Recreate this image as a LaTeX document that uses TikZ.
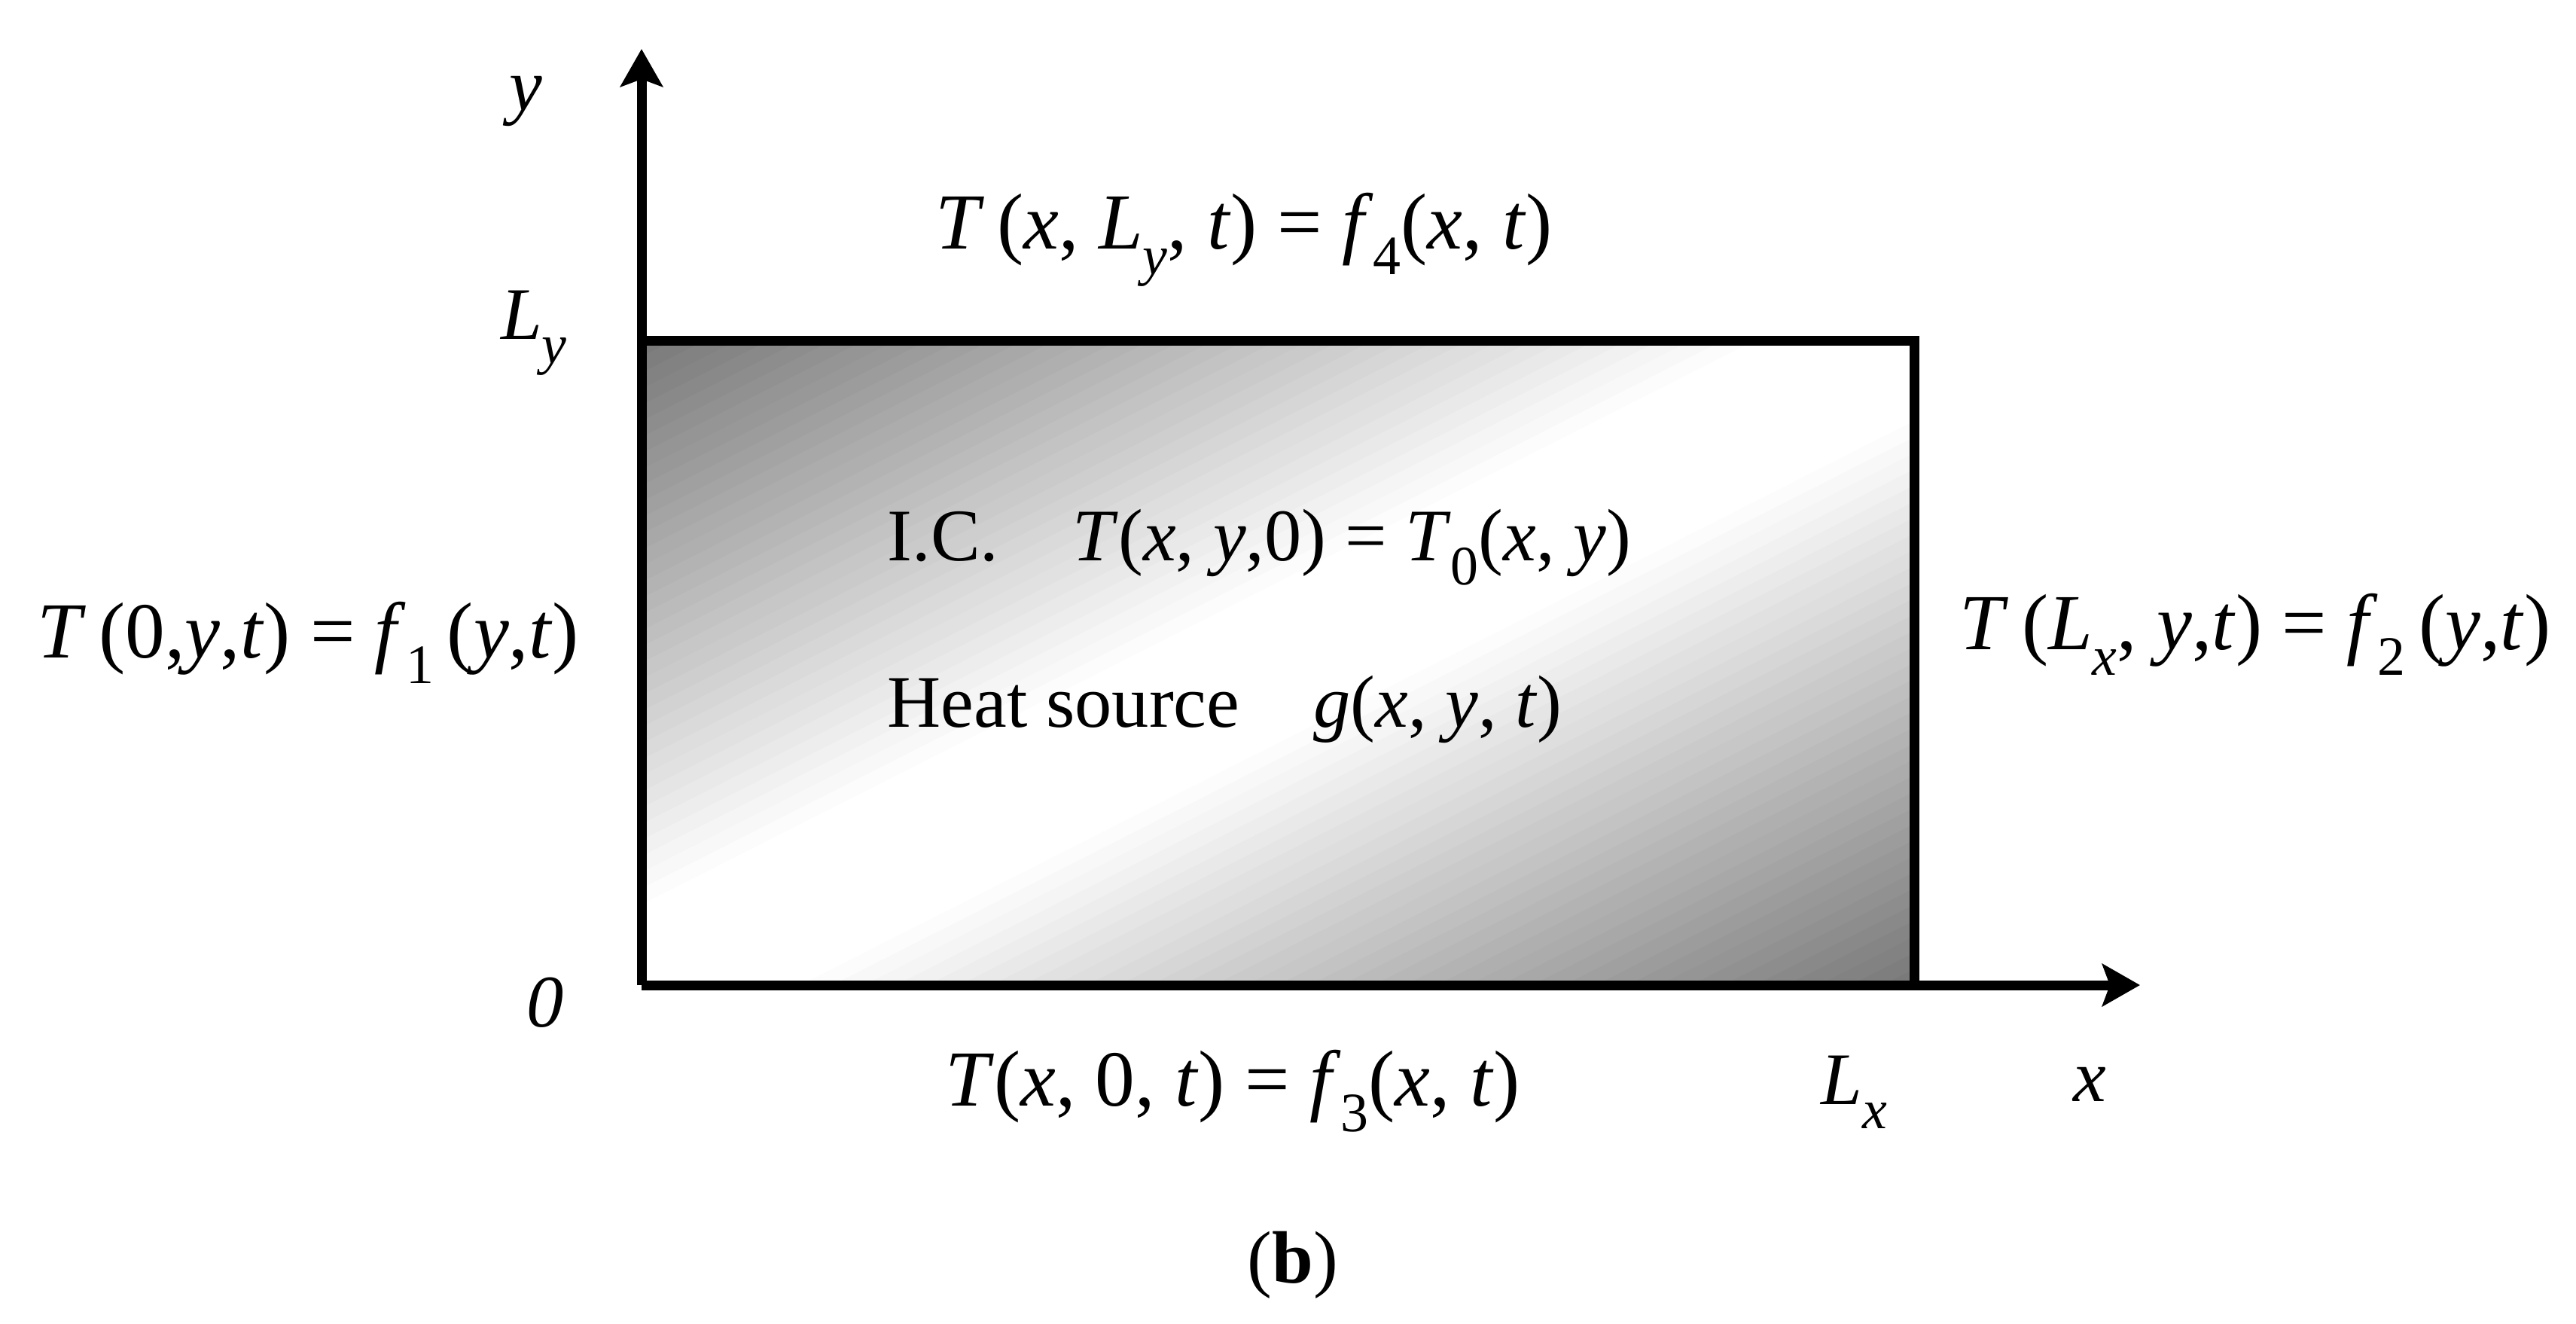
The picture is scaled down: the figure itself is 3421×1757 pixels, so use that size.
\documentclass[tikz,border=0pt]{standalone}
\usepackage{fontspec}
\setmainfont{Liberation Serif}
\usetikzlibrary{arrows.meta}
\newcommand{\iv}[1]{\textit{#1}}
\newcommand{\lsub}[1]{\raisebox{-0.7ex}{\fontsize{21}{21}\selectfont #1}}
\tikzset{
  lbl/.style={inner sep=0pt, font=\fontsize{28}{34}\selectfont},
  eqn/.style={inner sep=0pt, font=\fontsize{30}{36}\selectfont},
  axis/.style={line width=0.13cm, -{Stealth[length=0.5cm, width=0.56cm, inset=0.1cm]}},
}

\begin{document}
\begin{tikzpicture}[x=0.01cm, y=-0.01cm]
    \useasboundingbox (0,0) rectangle (3421,1757);
    % plate with heat source: diagonal grey-white-grey bands
    \begin{scope}
      \clip (852,452) rectangle (2542,1308);
      \foreach \i in {0,...,79} {
        \pgfmathsetmacro{\sa}{\i/40}
        \pgfmathsetmacro{\sb}{(\i+1.6)/40}
        \pgfmathsetmacro{\dd}{abs((\i+0.5)/40-1)}
        \pgfmathsetmacro{\tone}{53*max(0,(\dd-0.12)/0.88)}
        \fill[black!\tone] ({852+1690*(\sa+2)},{452-2*856}) -- ({852+1690*(\sa-2)},{452+2*856})
          -- ({852+1690*(\sb-2)},{452+2*856}) -- ({852+1690*(\sb+2)},{452-2*856}) -- cycle;
      }
    \end{scope}
    \draw[line width=0.13cm] (852,452) -- (2542,452) -- (2542,1308);
    % axes
    \coordinate (origin) at (852,1308);
    \coordinate (xend) at (2842,1308);
    \coordinate (yend) at (852,65);
    \draw[axis] (origin) -- (xend);
    \draw[axis] (origin) -- (yend);
    % axis labels
    \node[lbl] (ylab) at (698,135) {\iv{y}};
    \node[lbl] (lylab) at (709,442) {\iv{L}\lsub{\iv{y}}};
    \node[lbl] (zerolab) at (724,1331) {\iv{0}};
    \node[lbl] (lxlab) at (2462,1450) {\iv{L}\lsub{\iv{x}}};
    \node[lbl] (xlab) at (2775,1440) {\iv{x}};
    % boundary and initial conditions
    \node[eqn] (top) at (1652,318) {\iv{T}\,(\iv{x}, \iv{L}\lsub{\iv{y}}, \iv{t}) = \iv{f}\lsub{4}(\iv{x}, \iv{t})};
    \node[eqn] (bottom) at (1637,1449) {\iv{T}(\iv{x}, 0, \iv{t}) = \iv{f}\lsub{3}(\iv{x}, \iv{t})};
    \node[eqn] (left) at (409,853) {\iv{T}\,(0,\iv{y},\iv{t}) = \iv{f}\lsub{1}\,(\iv{y},\iv{t})};
    \node[eqn] (right) at (2995,842) {\iv{T}\,(\iv{L}\lsub{\iv{x}}, \iv{y},\iv{t}) = \iv{f}\lsub{2}\,(\iv{y},\iv{t})};
    \node[lbl, anchor=west] (ic) at (1178,727) {I.C.\quad \iv{T}(\iv{x}, \iv{y},0) = \iv{T}\lsub{0}(\iv{x}, \iv{y})};
    \node[lbl, anchor=west] (source) at (1178,942) {Heat source\quad \iv{g}(\iv{x}, \iv{y}, \iv{t})};
    \node[lbl] (caption) at (1717,1680) {(\textbf{b})};
\end{tikzpicture}
\end{document}
